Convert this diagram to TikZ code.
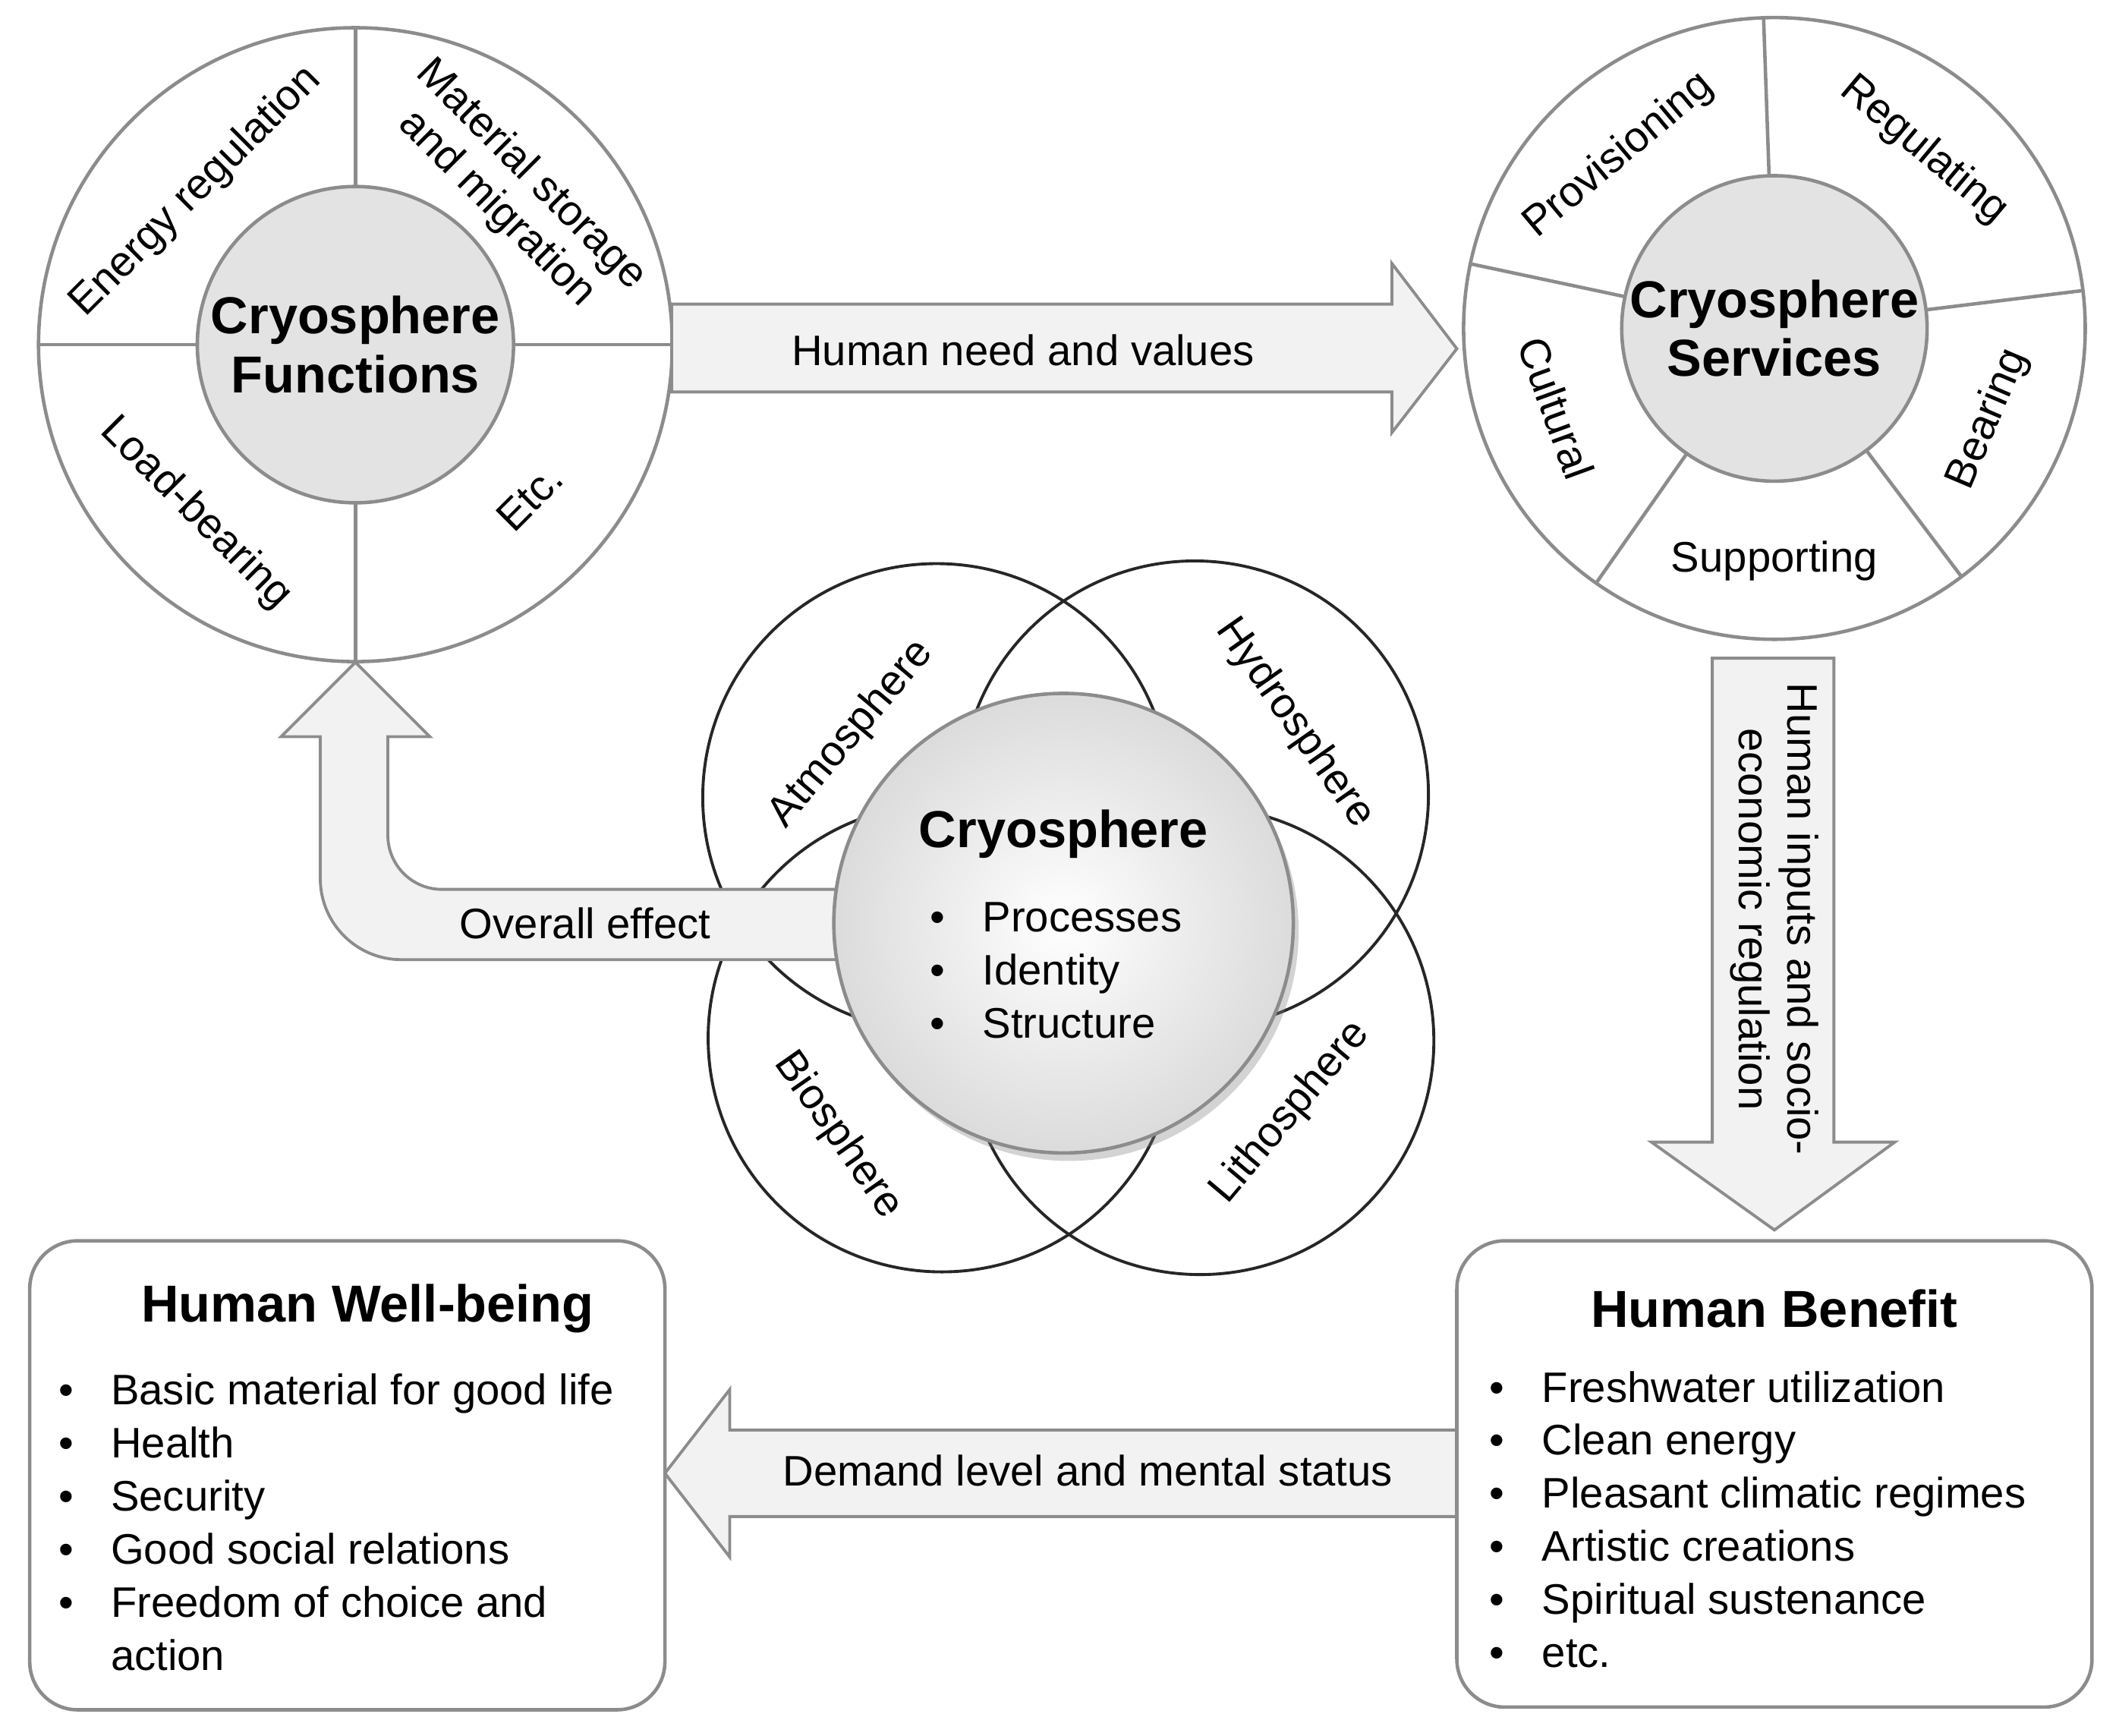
\documentclass[tikz,border=0pt]{standalone}
\usepackage{fontspec}
\setmainfont{Liberation Sans}
\usetikzlibrary{shadows,calc}
\definecolor{lg}{HTML}{F2F2F2}
\definecolor{cg}{HTML}{E3E3E3}
\definecolor{bd}{HTML}{8C8C8C}
\begin{document}
\begin{tikzpicture}[x=0.017806cm,y=0.017806cm,
  txt/.style={font=\fontsize{16}{18}\selectfont,inner sep=0pt},
  ttl/.style={font=\fontsize{19.5}{22}\selectfont\bfseries,inner sep=0pt,align=center},
  ring/.style={draw=bd,line width=1.3pt},
  fat/.style={draw=bd,fill=lg,line width=1.1pt},
  venn/.style={draw=black!85,line width=1.1pt},
  box/.style={draw=bd,line width=1.3pt,rounded corners=18pt,fill=white}]
\useasboundingbox (0,0) rectangle (1568,-1284);
% left ring
\node[ring,circle,minimum size=469*0.017806cm,fill=white] (fo) at (263,-255) {};
\draw[ring] (263,-20)--(263,-138) (263,-372)--(263,-490) (28,-255)--(146,-255) (380,-255)--(497,-255);
\node[ring,circle,minimum size=234*0.017806cm,fill=cg,ttl] (fi) at (263,-255) {Cryosphere\\Functions};
\node[txt,rotate=45] (l1) at (145,-142) {Energy regulation};
\node[txt,rotate=-45,align=center] (l2) at (380,-142) {Material storage\\and migration};
\node[txt,rotate=-45] (l3) at (145,-380) {Load-bearing};
\node[txt,rotate=45] (l4) at (392,-368) {Etc.};
% right ring
\node[ring,circle,minimum size=460*0.017806cm,fill=white] (so) at (1313,-243) {};
\foreach \a in {92,7,-53,-125,168}{\draw[ring] (1313,-243)++(\a:114)--++(\a:116);}
\node[ring,circle,minimum size=226*0.017806cm,fill=cg,ttl] (si) at (1313,-243) {Cryosphere\\Services};
\node[txt,rotate=40] (r1) at ($(1313,-243)+(132:172)$) {Provisioning};
\node[txt,rotate=-40] (r2) at ($(1313,-243)+(50:172)$) {Regulating};
\node[txt,rotate=67] (r3) at ($(1313,-243)+(-23:172)$) {Bearing};
\node[txt,rotate=0] (r4) at ($(1313,-243)+(-90:172)$) {Supporting};
\node[txt,rotate=-70] (r5) at ($(1313,-243)+(200:172)$) {Cultural};
% top arrow
\draw[fat] (497,-225)--(1030,-225)--(1030,-195)--(1078,-258)--(1030,-320)--(1030,-290)--(497,-290)--cycle;
\node[txt] (a1) at (757,-259) {Human need and values};
% down arrow
\draw[fat] (1267,-487)--(1357,-487)--(1357,-845)--(1402,-845)--(1313,-910)--(1222,-845)--(1267,-845)--cycle;
\node[txt,rotate=-90,align=center] (a2) at (1313,-680) {Human inputs and socio-\\economic regulation};
% bottom arrow
\draw[fat] (1078,-1058)--(540,-1058)--(540,-1028)--(492,-1090)--(540,-1152)--(540,-1122)--(1078,-1122)--cycle;
\node[txt] (a3) at (805,-1088) {Demand level and mental status};
% venn
\draw[venn] (693,-590) circle (173) (884,-588) circle (173) (697,-768) circle (173) (888,-770) circle (173);
\node[txt,rotate=50] (v1) at (630,-543) {Atmosphere};
\node[txt,rotate=-55] (v2) at (958,-535) {Hydrosphere};
\node[txt,rotate=-55] (v3) at (620,-840) {Biosphere};
\node[txt,rotate=50] (v4) at (955,-823) {Lithosphere};
% overall effect arrow
\draw[fat] (640,-658)--(327,-658) arc[start angle=270,end angle=180,radius=40] --(287,-545)--(318,-545)--(263,-490)--(208,-545)--(237,-545)--(237,-650) arc[start angle=180,end angle=270,radius=60] --(640,-710)--cycle;
\node[txt] (a4) at (433,-683) {Overall effect};
% center
\node[circle,draw=bd,line width=1.3pt,minimum size=340*0.017806cm,inner sep=0pt,
  inner color=white,outer color=black!14,drop shadow={opacity=0.35,shadow xshift=2pt,shadow yshift=-3pt}] (c) at (787,-683) {};
\node[ttl] (ct) at (787,-617) {Cryosphere};
\node[txt,anchor=west,align=left,font=\fontsize{16}{19.9}\selectfont] (cl) at (688,-718) {\textbullet\hspace{14pt}Processes\\\textbullet\hspace{14pt}Identity\\\textbullet\hspace{14pt}Structure};
% boxes
\node[box,minimum width=470*0.017806cm,minimum height=347*0.017806cm] (wb) at (257,-1091.5) {};
\node[ttl] (wt) at (272,-968) {Human Well-being};
\node[txt,anchor=north west,align=left,font=\fontsize{16}{19.9}\selectfont] (wl) at (43,-1016) {%
\textbullet\hspace{14pt}Basic material for good life\\\textbullet\hspace{14pt}Health\\\textbullet\hspace{14pt}Security\\\textbullet\hspace{14pt}Good social relations\\\textbullet\hspace{14pt}Freedom of choice and\\\phantom{\textbullet}\hspace{14pt}action};
\node[box,minimum width=470*0.017806cm,minimum height=345*0.017806cm] (hb) at (1313,-1090.5) {};
\node[ttl] (ht) at (1313,-968) {Human Benefit};
\node[txt,anchor=north west,align=left,font=\fontsize{16}{19.9}\selectfont] (hl) at (1102,-1014) {%
\textbullet\hspace{14pt}Freshwater utilization\\\textbullet\hspace{14pt}Clean energy\\\textbullet\hspace{14pt}Pleasant climatic regimes\\\textbullet\hspace{14pt}Artistic creations\\\textbullet\hspace{14pt}Spiritual sustenance\\\textbullet\hspace{14pt}etc.};
\end{tikzpicture}
\end{document}
